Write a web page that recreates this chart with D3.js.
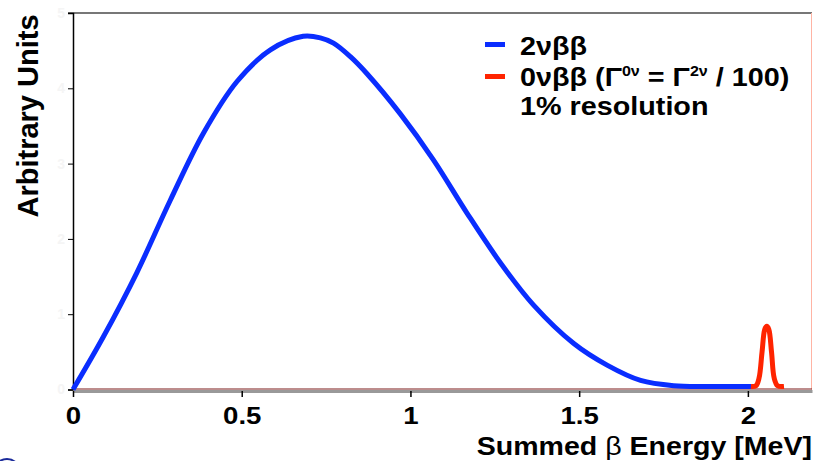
<!DOCTYPE html>
<meta charset="utf-8">
<script src="https://d3js.org/d3.v7.min.js"></script>
<style>
body { margin: 0; background: #fff; }
#chart text { font-family: "Liberation Sans", Arial, sans-serif; font-weight: bold; fill: #000; }
</style>
<div id="chart"></div>
<script>
// energies (MeV) and heights (arbitrary units)
var twoNuE = [0, 0.09, 0.189, 0.288, 0.386, 0.486, 0.585, 0.682, 0.733, 0.772, 0.822, 0.872, 0.97, 1.068, 1.168, 1.267, 1.365, 1.484, 1.584, 1.682, 1.78, 1.88, 2.01];
var twoNuY = [0, 0.70, 1.55, 2.51, 3.40, 4.09, 4.51, 4.69, 4.67, 4.60, 4.42, 4.19, 3.66, 3.05, 2.34, 1.68, 1.12, 0.61, 0.32, 0.12, 0.05, 0.04, 0.04];

var zeroNuE = [2.009, 2.024, 2.033, 2.042, 2.050, 2.056, 2.062, 2.070, 2.078, 2.088, 2.107];
var zeroNuY = [0.04, 0.05, 0.15, 0.50, 0.80, 0.84, 0.80, 0.50, 0.15, 0.05, 0.04];

var xTicks = [0, 0.5, 1, 1.5, 2];
var xTickLabels = ["0", "0.5", "1", "1.5", "2"];
var yTicks = [0, 1, 2, 3, 4, 5];

var W = 813, H = 461;
var stretch = 1.15; // the original lettering is wider than Arial
var svg = d3.select("#chart").append("svg")
    .attr("width", W)
    .attr("height", H);

var x = d3.scaleLinear().domain([0, 2.19]).range([73, 812]);
var y = d3.scaleLinear().domain([0, 5]).range([389.5, 13]);

// frame: top line and faint right edge
svg.append("line")
    .attr("x1", x(0) - 5).attr("x2", x(2.19))
    .attr("y1", y(5)).attr("y2", y(5))
    .attr("stroke", "#777").attr("stroke-width", 2);
svg.append("line")
    .attr("x1", x(2.19) - 0.5).attr("x2", x(2.19) - 0.5)
    .attr("y1", y(5)).attr("y2", y(0))
    .attr("stroke", "#ffb4a4").attr("stroke-width", 1);

// y axis, labels nearly invisible like the original
var yAxis = svg.append("g")
    .attr("transform", "translate(" + x(0) + ",0)")
    .call(d3.axisLeft(y).tickValues(yTicks).tickFormat(d3.format("d")).tickSize(5).tickPadding(3));
yAxis.select(".domain").attr("stroke", "#000").attr("stroke-width", 1.5);
yAxis.selectAll(".tick line").attr("stroke", "#000");
yAxis.selectAll(".tick text").style("fill", "#f5f5f5").attr("font-size", "14px");

// x axis
var xAxis = svg.append("g")
    .attr("transform", "translate(0," + (y(0) + 1.5) + ")")
    .call(d3.axisBottom(x).tickValues(xTicks).tickFormat(function(d, i) { return xTickLabels[i]; }).tickSize(6).tickPadding(10).tickSizeOuter(0));
xAxis.select(".domain").attr("stroke", "#999").attr("stroke-width", 3);
xAxis.selectAll(".tick line").attr("stroke", "#000").attr("stroke-width", 1.5);
xAxis.selectAll(".tick text")
    .attr("font-size", "24px")
    .attr("transform", "scale(" + stretch + ",1)");
svg.append("line")
    .attr("x1", x(0)).attr("x2", x(2.19))
    .attr("y1", y(0) - 0.5).attr("y2", y(0) - 0.5)
    .attr("stroke", "#7a1a1a").attr("stroke-width", 1);

var line = d3.line()
    .x(function(d) { return x(d[0]); })
    .y(function(d) { return y(d[1]); })
    .curve(d3.curveCatmullRom);

svg.append("path")
    .datum(d3.zip(twoNuE, twoNuY))
    .attr("d", line)
    .attr("fill", "none")
    .attr("stroke", "#0a2dff")
    .attr("stroke-width", 5)
    .attr("stroke-linejoin", "round");

svg.append("path")
    .datum(d3.zip(zeroNuE, zeroNuY))
    .attr("d", line)
    .attr("fill", "none")
    .attr("stroke", "#ff2400")
    .attr("stroke-width", 5)
    .attr("stroke-linejoin", "round");

// axis titles
svg.append("g")
    .attr("transform", "translate(812,455) scale(1.12,1)")
  .append("text")
    .attr("text-anchor", "end")
    .attr("font-size", "25.5px")
    .html('Summed <tspan font-weight="normal">β</tspan> Energy [MeV]');

svg.append("text")
    .attr("transform", "translate(38,116) rotate(-90)")
    .attr("text-anchor", "middle")
    .attr("font-size", "29px")
    .text("Arbitrary Units");

// legend
var legend = svg.append("g");
legend.append("rect").attr("x", 485).attr("y", 42).attr("width", 20).attr("height", 5).attr("fill", "#0a2dff");
legend.append("rect").attr("x", 485).attr("y", 74).attr("width", 20).attr("height", 5).attr("fill", "#ff2400");
var lt = legend.append("g").attr("transform", "translate(520,0) scale(" + stretch + ",1)");
lt.append("text").attr("y", 55).attr("font-size", "25px").text("2νββ");
lt.append("text").attr("y", 86).attr("font-size", "25px")
    .html('0νββ (Γ<tspan font-size="14px" dy="-10">0ν</tspan><tspan dy="10"> = Γ</tspan><tspan font-size="14px" dy="-10">2ν</tspan><tspan dy="10"> / 100)</tspan>');
lt.append("text").attr("y", 115).attr("font-size", "25px").text("1% resolution");

// small slide decoration in the lower left corner
svg.append("circle")
    .attr("cx", 7).attr("cy", 472).attr("r", 13)
    .attr("fill", "none").attr("stroke", "#1a2a9a").attr("stroke-width", 2);
</script>
